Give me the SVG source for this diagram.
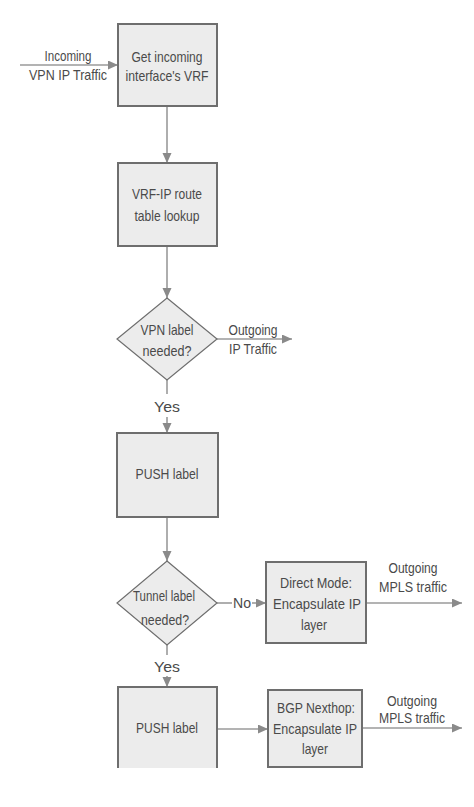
<svg xmlns="http://www.w3.org/2000/svg" width="474" height="807" viewBox="0 0 474 807">
<defs>
<marker id="ah" markerUnits="userSpaceOnUse" markerWidth="11" markerHeight="10" refX="10" refY="4.5" orient="auto">
<path d="M0,0 L10,4.5 L0,9 z" fill="#8a8a8a"/>
</marker>
<style>
.box{fill:#ececec;stroke:#6e6e6e;stroke-width:2}
.dia{fill:#ececec;stroke:#6e6e6e;stroke-width:1.2}
.side{fill:none;stroke:#6e6e6e;stroke-width:2}
.ln{fill:none;stroke:#9a9a9a;stroke-width:1.6}
.arr{fill:none;stroke:#9a9a9a;stroke-width:1.6;marker-end:url(#ah)}
text{font-family:"Liberation Sans",Arial,sans-serif;font-size:15px;fill:#4a4a4a;text-anchor:middle}
</style>
</defs>
<rect width="474" height="807" fill="#ffffff"/>
<g id="connectors">
<line class="arr" x1="20" y1="65" x2="118" y2="65"/>
<line class="arr" x1="167" y1="106" x2="167" y2="163"/>
<line class="arr" x1="167" y1="246" x2="167" y2="298"/>
<line class="arr" x1="217" y1="339" x2="292" y2="339"/>
<line class="ln" x1="167" y1="380" x2="167" y2="394"/>
<line class="arr" x1="167" y1="417" x2="167" y2="433"/>
<line class="arr" x1="167" y1="517" x2="167" y2="561"/>
<line class="ln" x1="217" y1="603" x2="232" y2="603"/>
<line class="arr" x1="252" y1="603" x2="266" y2="603"/>
<line class="arr" x1="366" y1="603" x2="462" y2="603"/>
<line class="ln" x1="167" y1="645" x2="167" y2="655"/>
<line class="arr" x1="167" y1="676" x2="167" y2="687"/>
<line class="arr" x1="217" y1="729" x2="268" y2="729"/>
<line class="arr" x1="362" y1="728" x2="462" y2="728"/>
<text x="68" y="61" textLength="47" lengthAdjust="spacingAndGlyphs">Incoming</text>
<text x="68" y="80" textLength="78" lengthAdjust="spacingAndGlyphs">VPN IP Traffic</text>
<text x="253" y="335" textLength="49" lengthAdjust="spacingAndGlyphs">Outgoing</text>
<text x="253" y="354" textLength="48" lengthAdjust="spacingAndGlyphs">IP Traffic</text>
<text x="167" y="412" textLength="26" lengthAdjust="spacingAndGlyphs">Yes</text>
<text x="242" y="608" textLength="18" lengthAdjust="spacingAndGlyphs">No</text>
<text x="413" y="573" textLength="49" lengthAdjust="spacingAndGlyphs">Outgoing</text>
<text x="413" y="592" textLength="68" lengthAdjust="spacingAndGlyphs">MPLS traffic</text>
<text x="167" y="672" textLength="26" lengthAdjust="spacingAndGlyphs">Yes</text>
<text x="412" y="706" textLength="50" lengthAdjust="spacingAndGlyphs">Outgoing</text>
<text x="412" y="723" textLength="66" lengthAdjust="spacingAndGlyphs">MPLS traffic</text>
</g>
<g id="n1">
<rect class="box" x="118" y="24" width="99" height="82"/>
<text x="167" y="62" textLength="71" lengthAdjust="spacingAndGlyphs">Get incoming</text>
<text x="167" y="81" textLength="83" lengthAdjust="spacingAndGlyphs">interface's VRF</text>
</g>
<g id="n2">
<rect class="box" x="118" y="163" width="99" height="83"/>
<text x="167" y="199" textLength="70" lengthAdjust="spacingAndGlyphs">VRF-IP route</text>
<text x="167" y="221" textLength="65" lengthAdjust="spacingAndGlyphs">table lookup</text>
</g>
<g id="n3">
<polygon class="dia" points="167,298 217,339 167,380 117,339"/>
<text x="167" y="335" textLength="53" lengthAdjust="spacingAndGlyphs">VPN label</text>
<text x="167" y="356" textLength="49" lengthAdjust="spacingAndGlyphs">needed?</text>
</g>
<g id="n4">
<rect class="box" x="117" y="433" width="101" height="84"/>
<text x="167" y="479" textLength="63" lengthAdjust="spacingAndGlyphs">PUSH label</text>
</g>
<g id="n5">
<polygon class="dia" points="167,561 217,603 167,645 117,603"/>
<text x="164" y="601" textLength="62" lengthAdjust="spacingAndGlyphs">Tunnel label</text>
<text x="165" y="625" textLength="48" lengthAdjust="spacingAndGlyphs">needed?</text>
</g>
<g id="n6">
<rect class="box" x="266" y="562" width="100" height="81"/>
<text x="316" y="588" textLength="72" lengthAdjust="spacingAndGlyphs">Direct Mode:</text>
<text x="317" y="609" textLength="88" lengthAdjust="spacingAndGlyphs">Encapsulate IP</text>
<text x="314" y="630" textLength="26" lengthAdjust="spacingAndGlyphs">layer</text>
</g>
<g id="n7">
<rect x="118" y="687" width="99" height="81" fill="#ececec"/>
<path class="side" d="M118,768 V687 H217 V768"/>
<text x="167" y="733" textLength="62" lengthAdjust="spacingAndGlyphs">PUSH label</text>
</g>
<g id="n8">
<rect class="box" x="268" y="690" width="94" height="77"/>
<text x="316" y="713" textLength="78" lengthAdjust="spacingAndGlyphs">BGP Nexthop:</text>
<text x="315" y="734" textLength="84" lengthAdjust="spacingAndGlyphs">Encapsulate IP</text>
<text x="315" y="754" textLength="26" lengthAdjust="spacingAndGlyphs">layer</text>
</g>
</svg>
